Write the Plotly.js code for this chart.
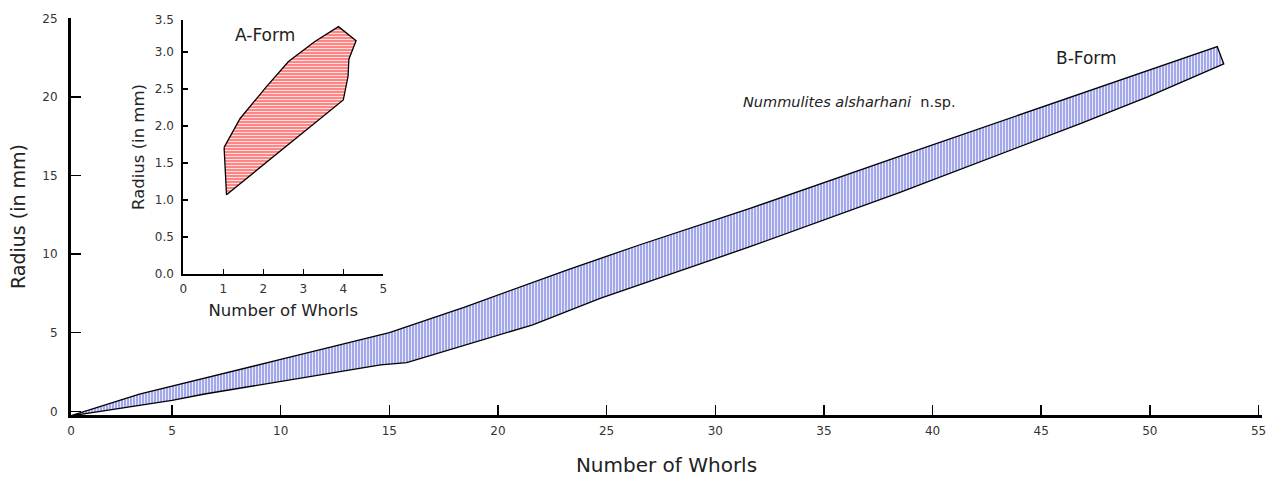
<!DOCTYPE html>
<html>
<head>
<meta charset="utf-8">
<script src="https://cdn.plot.ly/plotly-3.0.1.min.js"></script>
<style>html,body{margin:0;padding:0;background:#fff;}#chart{width:1266px;height:477px;}</style>
</head>
<body>
<div id="chart"></div>
<script>
// B-Form band (main chart): upper and lower boundary
const bUpperWhorls = [0.3, 3.5, 10, 15, 18.5, 23.2, 26.5, 31.6, 38.5, 46.8, 53.1];
const bUpperRadius = [-0.3, 1.1, 3.3, 5.0, 6.65, 9.0, 10.58, 12.91, 16.24, 20.2, 23.2];
const bLowerWhorls = [0.3, 5, 6.5, 10, 14.6, 15.8, 18.5, 21.6, 24.7, 31.6, 38.5, 46.8, 49.9, 53.4];
const bLowerRadius = [-0.3, 0.7, 1.1, 1.9, 2.95, 3.1, 4.2, 5.5, 7.19, 10.47, 13.93, 18.3, 20.0, 22.1];

// A-Form polygon (inset chart)
const aWhorls = [1.02, 1.08, 4.0, 4.12, 4.14, 4.32, 3.88, 3.29, 2.63, 2.08, 1.42, 1.02];
const aRadius = [1.71, 1.07, 2.35, 2.67, 2.90, 3.15, 3.34, 3.14, 2.87, 2.53, 2.10, 1.71];

// tick positions and labels
const mainXTickVals = [0.35, 5, 10, 15, 20, 25, 30, 35, 40, 45, 50, 55];
const mainXTickText = ['0', '5', '10', '15', '20', '25', '30', '35', '40', '45', '50', '55'];
const mainYTicks = [0, 5, 10, 15, 20, 25];
const insetXTicks = [0, 1, 2, 3, 4, 5];
const insetYTickVals = [0, 0.5, 1.0, 1.5, 2.0, 2.5, 3.0, 3.43];
const insetYTickText = ['0.0', '0.5', '1.0', '1.5', '2.0', '2.5', '3.0', '3.5'];

const bandX = bUpperWhorls.concat(bLowerWhorls.slice().reverse());
const bandY = bUpperRadius.concat(bLowerRadius.slice().reverse());

const FONT = 'DejaVu Sans, Verdana, sans-serif';

const traces = [
  {
    x: bandX, y: bandY, type: 'scatter', mode: 'lines', fill: 'toself',
    fillcolor: 'rgba(0,0,0,0)',
    fillpattern: {shape: '|', bgcolor: '#a2a8ea', fgcolor: '#ffffff', size: 3, solidity: 0.25},
    line: {color: '#000', width: 1.3}, hoverinfo: 'skip', showlegend: false,
    xaxis: 'x', yaxis: 'y'
  },
  {
    x: aWhorls, y: aRadius, type: 'scatter', mode: 'lines', fill: 'toself',
    fillcolor: 'rgba(0,0,0,0)',
    fillpattern: {shape: '-', bgcolor: '#ff8484', fgcolor: '#ffffff', size: 3, solidity: 0.25},
    line: {color: '#000', width: 1.3}, hoverinfo: 'skip', showlegend: false,
    xaxis: 'x2', yaxis: 'y2'
  }
];

const layout = {
  width: 1266, height: 477,
  margin: {l: 71, r: 4, t: 18, b: 62},
  paper_bgcolor: '#fff', plot_bgcolor: 'rgba(0,0,0,0)',
  font: {family: FONT, color: '#222'},
  showlegend: false,
  xaxis: {
    domain: [0, 1], range: [0.35, 55.16],
    tickvals: mainXTickVals, ticktext: mainXTickText,
    ticks: 'inside', ticklen: 10, tickwidth: 1.5, tickcolor: '#000',
    showline: true, linecolor: '#000', linewidth: 3, showgrid: false, zeroline: false,
    tickfont: {size: 12, color: '#333', family: FONT}, ticklabelstandoff: 3,
    ticklabeloverflow: 'allow',
    title: {text: 'Number of Whorls', font: {size: 20, color: '#222', family: FONT}, standoff: 22},
    anchor: 'y'
  },
  yaxis: {
    domain: [0, 1], range: [-0.235, 25.02],
    tickvals: mainYTicks, ticks: 'inside', ticklen: 10, tickwidth: 1.5, tickcolor: '#000',
    showline: true, linecolor: '#000', linewidth: 3, showgrid: false, zeroline: false,
    tickfont: {size: 12, color: '#333', family: FONT}, ticklabelstandoff: 8,
    ticklabeloverflow: 'allow',
    title: {text: 'Radius (in mm)', font: {size: 19, color: '#222', family: FONT}, standoff: 12},
    anchor: 'x'
  },
  xaxis2: {
    domain: [0.0943, 0.2622], range: [0, 5],
    tickvals: insetXTicks, ticks: 'inside', ticklen: 5, tickwidth: 1.5, tickcolor: '#000',
    showline: true, linecolor: '#000', linewidth: 2, showgrid: false, zeroline: false,
    tickfont: {size: 12, color: '#333', family: FONT}, ticklabelstandoff: 3,
    title: {text: 'Number of Whorls', font: {size: 16.5, color: '#222', family: FONT}, standoff: 9},
    anchor: 'y2'
  },
  yaxis2: {
    domain: [0.3552, 0.995], range: [0, 3.43],
    tickvals: insetYTickVals, ticktext: insetYTickText,
    ticks: 'inside', ticklen: 5, tickwidth: 1.5, tickcolor: '#000',
    showline: true, linecolor: '#000', linewidth: 2, showgrid: false, zeroline: false,
    tickfont: {size: 12, color: '#333', family: FONT}, ticklabelstandoff: 5,
    title: {text: 'Radius (in mm)', font: {size: 16.5, color: '#222', family: FONT}, standoff: 6},
    anchor: 'x2'
  },
  annotations: [
    {x: 2.04, y: 3.23, xref: 'x2', yref: 'y2', text: 'A-Form', showarrow: false,
     font: {size: 17, color: '#222', family: FONT}},
    {x: 47.1, y: 22.5, xref: 'x', yref: 'y', text: 'B-Form', showarrow: false,
     font: {size: 17, color: '#222', family: FONT}},
    {x: 31.2, y: 19.7, xref: 'x', yref: 'y', xanchor: 'left',
     text: '<i>Nummulites alsharhani</i>  n.sp.', showarrow: false,
     font: {size: 14.5, color: '#222', family: FONT}}
  ]
};

Plotly.newPlot('chart', traces, layout, {displayModeBar: false, staticPlot: true});
</script>
</body>
</html>
